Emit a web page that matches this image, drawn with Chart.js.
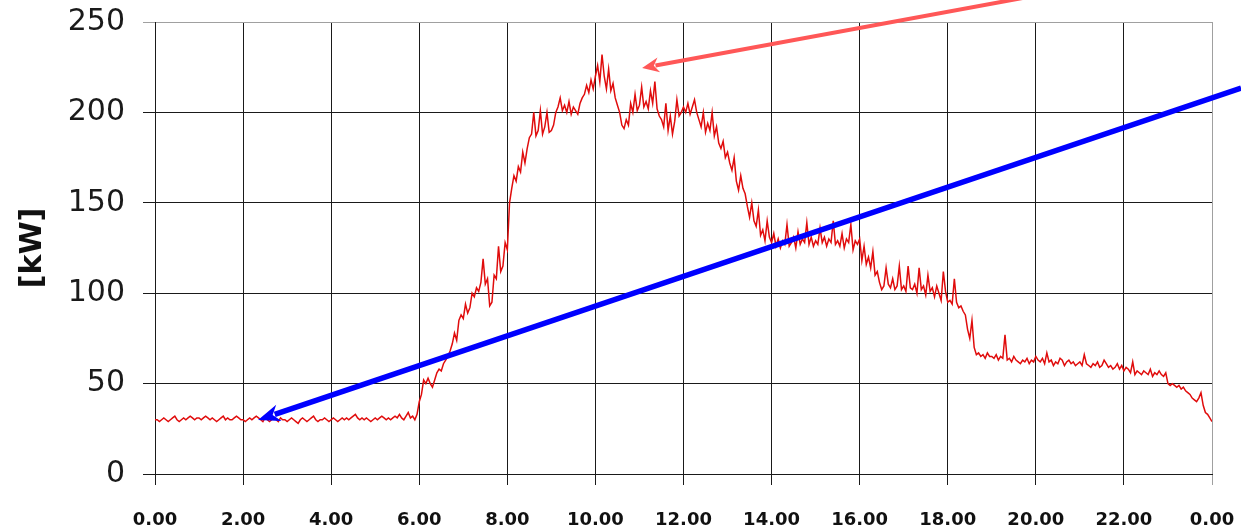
<!DOCTYPE html>
<html>
<head>
<meta charset="utf-8">
<script src="https://cdn.jsdelivr.net/npm/chart.js@4"></script>
<style>
  html, body { margin: 0; padding: 0; background: #fff; }
  #wrap { width: 1241px; height: 531px; position: relative; }
</style>
</head>
<body>
<div id="wrap"><canvas id="c" width="1241" height="531"></canvas></div>
<script>
// Time step between samples (hours)
const sampleStepHours = 0.05;

// Load [kW], one row per hour, 20 samples per hour
const loadH00to06 = [
  30,30,29,30,31,30,29,30,31,32,30,29,30,31,30,31,32,31,30,31,
  31,30,31,32,31,30,31,30,29,30,31,32,30,31,30,30,31,32,31,30,
  30,29,30,31,30,31,32,31,30,29,31,30,29,30,31,30,29,31,30,30,
  29,30,31,30,29,28,30,31,30,29,30,31,32,30,29,30,30,31,30,29,
  30,31,30,29,30,31,30,31,30,31,32,33,31,30,31,30,31,30,29,30,
  31,30,31,32,31,30,31,30,31,32,31,33,31,30,32,34,31,32,30,33
];
const loadH06to12 = [
  40,44,52,50,53,50,48,52,56,58,57,61,63,65,68,72,78,74,85,88,
  86,94,89,92,100,98,103,101,106,119,105,108,93,95,110,108,126,112,115,128,
  124,150,158,165,162,170,167,178,172,180,186,188,200,187,190,201,188,192,200,189,
  190,193,200,203,208,201,204,200,206,199,203,201,199,205,208,210,215,211,218,213,
  220,226,217,232,220,213,224,212,216,208,204,200,193,191,196,193,205,200,210,201,
  204,214,203,206,202,212,205,217,202,198,196,192,205,190,198,188,195,207,198,200
];
const loadH12to18 = [
  203,200,205,199,203,207,200,196,192,200,189,194,190,200,187,192,183,180,184,175,
  178,172,168,175,162,157,165,158,155,148,142,150,140,137,146,132,135,129,140,131,
  128,133,126,130,125,129,127,138,126,128,131,125,134,127,130,128,139,127,131,126,
  129,127,136,128,131,126,130,128,140,127,129,126,133,125,130,128,138,124,129,127,
  130,118,126,116,120,114,123,110,112,106,102,104,114,105,103,108,102,104,115,102,
  104,101,115,103,102,105,100,114,102,104,99,110,101,103,98,104,100,96,112,101
];
const loadH18to24 = [
  95,96,94,108,95,92,93,90,88,80,75,85,70,66,67,65,66,64,67,65,
  65,64,66,63,65,64,77,63,64,62,65,63,62,61,63,62,64,61,63,62,
  65,63,62,64,61,67,62,63,60,62,61,64,63,60,62,63,61,62,60,61,
  62,60,66,61,60,59,61,60,62,59,60,63,61,59,60,58,59,61,58,60,
  57,59,58,56,62,55,57,56,55,57,56,55,58,54,56,55,57,55,54,56,
  50,49,50,49,48,49,47,48,46,45,44,42,41,40,42,45,38,34,33,31,
  29
];

// Axis ticks
const xTickHours = [0,2,4,6,8,10,12,14,16,18,20,22,24];
const yTickValues = [0,50,100,150,200,250];

// Annotation arrows, in data units (hours, kW)
const redArrow  = { from: [19.75, 263.5], to: [11.06, 224.6] };
const blueArrow = { from: [24.66, 213.5], to: [2.34, 29.9] };

const loadKW = [].concat(loadH00to06, loadH06to12, loadH12to18, loadH18to24);
const points = loadKW.map((v, i) => ({ x: i * sampleStepHours, y: v }));

function drawArrow(chart, spec, color, width, headLen, headW) {
  const xs = chart.scales.x, ys = chart.scales.y;
  const x1 = xs.getPixelForValue(spec.from[0]), y1 = ys.getPixelForValue(spec.from[1]);
  const x2 = xs.getPixelForValue(spec.to[0]), y2 = ys.getPixelForValue(spec.to[1]);
  const ang = Math.atan2(y2 - y1, x2 - x1);
  const ctx = chart.ctx;
  ctx.save();
  ctx.strokeStyle = color;
  ctx.fillStyle = color;
  ctx.lineWidth = width;
  ctx.lineCap = 'butt';
  const bx = x2 - Math.cos(ang) * headLen * 0.8, by = y2 - Math.sin(ang) * headLen * 0.8;
  ctx.beginPath();
  ctx.moveTo(x1, y1);
  ctx.lineTo(bx, by);
  ctx.stroke();
  const baseX = x2 - Math.cos(ang) * headLen, baseY = y2 - Math.sin(ang) * headLen;
  const nx = -Math.sin(ang), ny = Math.cos(ang);
  ctx.beginPath();
  ctx.moveTo(x2, y2);
  ctx.lineTo(baseX + nx * headW / 2, baseY + ny * headW / 2);
  ctx.lineTo(x2 - Math.cos(ang) * headLen * 0.7, y2 - Math.sin(ang) * headLen * 0.7);
  ctx.lineTo(baseX - nx * headW / 2, baseY - ny * headW / 2);
  ctx.closePath();
  ctx.fill();
  ctx.restore();
}

const arrowPlugin = {
  id: 'arrows',
  afterDraw(chart) {
    drawArrow(chart, redArrow, '#ff5757', 4, 17, 15);
    drawArrow(chart, blueArrow, '#0000ff', 5.5, 22, 17);
  }
};

new Chart(document.getElementById('c'), {
  type: 'line',
  data: {
    datasets: [{
      data: points,
      borderColor: '#e00c0c',
      borderWidth: 1.5,
      pointRadius: 0,
      tension: 0,
      fill: false
    }]
  },
  options: {
    responsive: false,
    animation: false,
    layout: { padding: { top: 22, right: 29, left: 0, bottom: 0 } },
    plugins: { legend: { display: false }, tooltip: { enabled: false } },
    scales: {
      x: {
        type: 'linear',
        min: 0, max: 24,
        afterBuildTicks(scale) { scale.ticks = xTickHours.map(v => ({ value: v })); },
        afterFit(scale) {
          scale.height = 57;
          scale.paddingLeft = 0; scale.paddingRight = 0;
          scale.paddingTop = 0; scale.paddingBottom = 0;
        },
        grid: {
          color: (c) => (c.tick && c.tick.value === 24 ? '#a0a0a0' : '#1a1a1a'),
          lineWidth: 1,
          tickLength: 11,
          drawTicks: true
        },
        border: { display: true, color: '#1a1a1a', width: 1 },
        ticks: {
          autoSkip: false, maxRotation: 0, padding: 25,
          color: '#111',
          font: { family: 'DejaVu Sans', size: 18, weight: 'bold' },
          callback: (v) => (v % 24).toFixed(2)
        }
      },
      y: {
        min: 0, max: 250,
        afterBuildTicks(scale) { scale.ticks = yTickValues.map(v => ({ value: v })); },
        afterFit(scale) {
          scale.width = 155;
          scale.paddingLeft = 0; scale.paddingRight = 0;
          scale.paddingTop = 0; scale.paddingBottom = 0;
        },
        grid: {
          color: (c) => (c.tick && c.tick.value === 250 ? '#a0a0a0' : '#1a1a1a'),
          lineWidth: 1,
          tickLength: 12,
          drawTicks: true
        },
        border: { display: true, color: '#1a1a1a', width: 1 },
        ticks: {
          padding: 18,
          color: '#1a1a1a',
          font: { family: 'DejaVu Sans', size: 30 }
        },
        title: {
          display: true,
          text: '[kW]',
          color: '#111',
          padding: { top: 15, bottom: 0 },
          font: { family: 'DejaVu Sans', size: 30, weight: 'bold' }
        }
      }
    }
  },
  plugins: [arrowPlugin]
});
</script>
</body>
</html>
